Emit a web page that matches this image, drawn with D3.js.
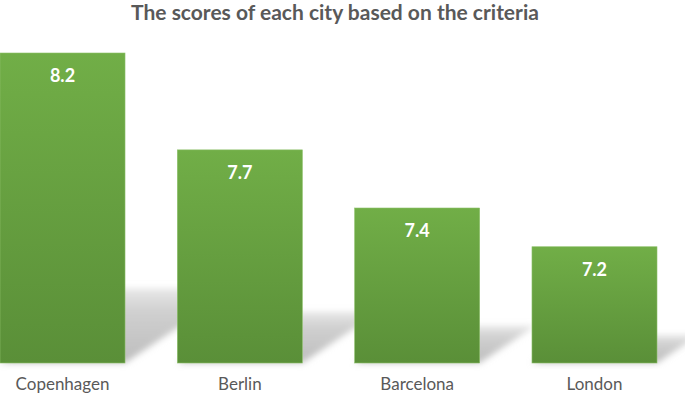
<!DOCTYPE html>
<html>
<head>
<meta charset="utf-8">
<script src="https://cdn.jsdelivr.net/npm/d3@7"></script>
<style>
  body { margin: 0; background: #fff; }
  svg { display: block; font-family: Lato, "Open Sans", sans-serif; }
</style>
</head>
<body>
<div id="chart"></div>
<script>
// data
var cities = ["Copenhagen", "Berlin", "Barcelona", "London"];
var scores = [8.2, 7.7, 7.4, 7.2];
var titleText = "The scores of each city based on the criteria";

var width = 685, height = 396;
var baseY = 363;

var svg = d3.select("#chart")
  .append("svg")
    .attr("width", width)
    .attr("height", height);

var defs = svg.append("defs");

// bar gradient
var grad = defs.append("linearGradient")
  .attr("id", "barGrad")
  .attr("x1", 0).attr("y1", 0).attr("x2", 0).attr("y2", 1);
grad.append("stop").attr("offset", "0%").attr("stop-color", "#71ae47");
grad.append("stop").attr("offset", "100%").attr("stop-color", "#5a8f38");

// shadow fades upward
var sgrad = defs.append("linearGradient")
  .attr("id", "shadowGrad")
  .attr("x1", 0).attr("y1", 1).attr("x2", 0).attr("y2", 0);
sgrad.append("stop").attr("offset", "0%").attr("stop-color", "#bdbdbd");
sgrad.append("stop").attr("offset", "70%").attr("stop-color", "#d0d0d0");
sgrad.append("stop").attr("offset", "100%").attr("stop-color", "#e8e8e8");

defs.append("filter").attr("id", "blur")
  .attr("x", "-20%").attr("y", "-20%").attr("width", "140%").attr("height", "140%")
  .append("feGaussianBlur").attr("stdDeviation", 3);

var x = d3.scaleBand()
  .domain(cities)
  .range([0, 657])
  .paddingInner(0.295)
  .paddingOuter(0);

var y = d3.scaleLinear()
  .domain([6.6, 8.2])
  .range([baseY, 53]);

var data = cities.map(function(c, i) { return {city: c, score: scores[i]}; });

// perspective shadows behind the bars
svg.append("g").selectAll("polygon")
  .data(data)
  .enter()
  .append("polygon")
    .attr("points", function(d) {
      var x0 = x(d.city), x1 = x0 + x.bandwidth();
      var h = (baseY - y(d.score)) * 0.24;
      var dx = h * 1.5;
      return [[x0, baseY], [x1, baseY], [x1 + dx, baseY - h], [x0 + dx, baseY - h]].join(" ");
    })
    .attr("fill", "url(#shadowGrad)")
    .attr("filter", "url(#blur)");

// bars
svg.append("g").selectAll("rect")
  .data(data)
  .enter()
  .append("rect")
    .attr("x", function(d) { return x(d.city); })
    .attr("y", function(d) { return y(d.score); })
    .attr("width", x.bandwidth())
    .attr("height", function(d) { return baseY - y(d.score); })
    .attr("fill", "url(#barGrad)")
    .attr("stroke", "#8cc06a")
    .attr("stroke-width", 0.6);

// value labels
svg.append("g").selectAll("text")
  .data(data)
  .enter()
  .append("text")
    .attr("x", function(d) { return x(d.city) + x.bandwidth() / 2; })
    .attr("y", function(d) { return y(d.score) + 29; })
    .attr("text-anchor", "middle")
    .attr("fill", "#ffffff")
    .style("font-weight", "bold")
    .style("font-size", "18px")
    .text(function(d) { return d.score.toFixed(1); });

// category axis (no line, no ticks)
var xAxis = svg.append("g")
  .attr("transform", "translate(0," + baseY + ")")
  .call(d3.axisBottom(x).tickSize(0).tickPadding(15));
xAxis.select(".domain").remove();
xAxis.selectAll("text")
  .attr("fill", "#595959")
  .style("font-family", "Lato, 'Open Sans', sans-serif")
  .style("font-size", "17px");

// title
svg.append("text")
  .attr("x", 335)
  .attr("y", 20)
  .attr("text-anchor", "middle")
  .attr("fill", "#595959")
  .style("font-weight", "bold")
  .style("font-size", "21px")
  .text(titleText);
</script>
</body>
</html>
